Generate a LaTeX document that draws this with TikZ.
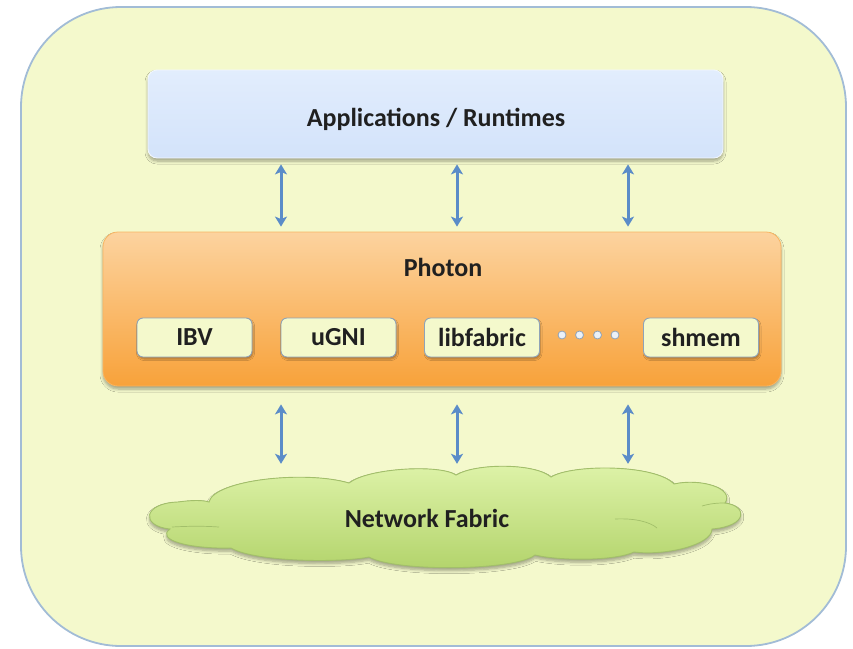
\documentclass[tikz,border=0pt]{standalone}
\usepackage{fontspec}
\setmainfont{Carlito}
\usetikzlibrary{arrows.meta,shadows.blur,calc}

\definecolor{bgfill}{HTML}{F4F9CC}
\definecolor{bgline}{HTML}{A2BCD6}
\definecolor{appT}{HTML}{E2EDFD}
\definecolor{appB}{HTML}{D3E3FA}
\definecolor{orT}{HTML}{FCD39F}
\definecolor{orB}{HTML}{F8A23A}
\definecolor{arrowblue}{HTML}{5B8CC8}
\definecolor{boxline}{HTML}{8FA3B8}
\definecolor{cloudT}{HTML}{DEF3A9}
\definecolor{cloudB}{HTML}{B2D36A}
\definecolor{cloudline}{HTML}{A2BF6A}
\definecolor{ink}{HTML}{202020}

\tikzset{
  label font/.style={font=\fontsize{26}{30}\selectfont\bfseries, text=ink},
  soft shadow/.style={blur shadow={shadow xshift=0pt, shadow yshift=-3pt,
      shadow blur steps=6, shadow opacity=35, shadow blur radius=3pt}},
  appsbox/.style={rectangle, rounded corners=9pt, soft shadow,
      top color=appT, bottom color=appB, draw=white!60!appT, line width=0.8pt,
      minimum width=575pt, minimum height=88pt},
  photonbox/.style={rectangle, rounded corners=15pt, soft shadow,
      top color=orT, bottom color=orB, draw=orB!80!white, line width=0.8pt,
      minimum width=678pt, minimum height=154pt},
  driverbox/.style={rectangle, rounded corners=6pt, label font,
      fill=bgfill, draw=boxline, line width=0.9pt,
      blur shadow={shadow xshift=1pt, shadow yshift=-2pt, shadow blur steps=4,
      shadow opacity=30, shadow blur radius=1.5pt},
      minimum width=115pt, minimum height=39pt, inner sep=0pt},
  dotmark/.style={circle, fill=white!70!arrowblue!40, draw=boxline, line width=0.8pt,
      minimum size=8pt, inner sep=0pt},
  biarrow/.style={draw=arrowblue, line width=3pt,
      {Stealth[length=10pt,width=12pt,inset=2.5pt]}-{Stealth[length=10pt,width=12pt,inset=2.5pt]}},
}

\begin{document}
\begin{tikzpicture}[x=1pt, y=-1pt]
\useasboundingbox (0,0) rectangle (853,648);

% outer panel
\draw[bgline, fill=bgfill, line width=1.8pt, rounded corners=100pt]
  (21,7) rectangle (846,646);

% top layer
\node[appsbox] (apps) at (435.5,114) {};
\node[label font, anchor=base] (appstitle) at (436,126) {Applications / Runtimes};

% middle layer with its transports
\node[photonbox] (photon) at (442,309) {};
\node[label font, anchor=base] (photontitle) at (443,276) {Photon};
\node[driverbox] (ibv)  at (194.5,337.5) {IBV};
\node[driverbox] (ugni) at (338.5,337.5) {uGNI};
\node[driverbox] (lf)   at (482,337.5)   {libfabric};
\node[driverbox] (shm)  at (701,337.5)   {shmem};
\node[dotmark] (d1) at (562,335) {};
\node[dotmark] (d2) at (579.5,335) {};
\node[dotmark] (d3) at (597.5,335) {};
\node[dotmark] (d4) at (615,335) {};

% network cloud
\path[soft shadow, top color=cloudT, bottom color=cloudB, draw=cloudline, line width=0.9pt]
  (209,502)
  .. controls (214,480) and (305,470) .. (349,483)
  .. controls (368,468) and (440,464) .. (456,475)
  .. controls (476,463) and (535,463) .. (551,477)
  .. controls (572,464) and (655,464) .. (674,484)
  .. controls (700,478) and (735,488) .. (725,503)
  .. controls (748,506) and (748,526) .. (712,529)
  .. controls (712,545) and (665,556) .. (634,552)
  .. controls (615,561) and (560,561) .. (535,555)
  .. controls (515,571) and (395,572) .. (369,557)
  .. controls (340,563) and (255,562) .. (231,548)
  .. controls (190,549) and (155,540) .. (170,529)
  .. controls (140,526) and (143,503) .. (178,502)
  .. controls (192,500) and (203,500) .. (209,502) -- cycle;
% creases between overlapping lobes
\draw[cloudline, line width=0.7pt] (172,527) .. controls (190,526) and (205,526) .. (219,527);
\draw[cloudline, line width=0.7pt] (615,519) .. controls (635,518) and (650,522) .. (657,528);
\draw[cloudline, line width=0.7pt] (702,506) .. controls (712,503) and (720,503) .. (725,503);
\node[minimum width=584pt, minimum height=95pt] (net) at (447,517.5) {};
\node[label font, anchor=base] (nettitle) at (427,527) {Network Fabric};

% arrow columns
\coordinate (c1) at (281,0);
\coordinate (c2) at (457,0);
\coordinate (c3) at (628,0);

\foreach \c in {c1,c2,c3} {
  \draw[biarrow, shorten <=6pt, shorten >=5pt] (apps.south -| \c) -- (photon.north -| \c);
  \draw[biarrow, shorten <=18pt, shorten >=6pt] (photon.south -| \c) -- (net.north -| \c);
}
\end{tikzpicture}
\end{document}
